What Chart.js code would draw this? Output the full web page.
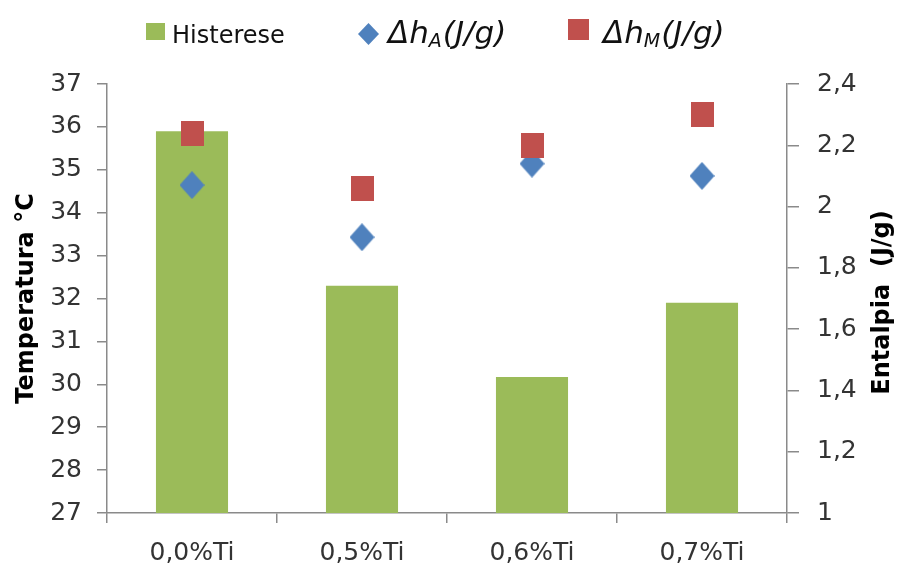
<!DOCTYPE html>
<html>
<head>
<meta charset="utf-8">
<script src="https://cdn.jsdelivr.net/npm/chart.js@4/dist/chart.umd.min.js"></script>
<style>
  html, body { margin: 0; padding: 0; background: #ffffff; }
  #wrap { width: 901px; height: 570px; position: relative; }
</style>
</head>
<body>
<div id="wrap"><canvas id="chart" width="901" height="570"></canvas></div>
<script>
// Alloy compositions on the category axis
const categories = ['0,0%Ti', '0,5%Ti', '0,6%Ti', '0,7%Ti'];

// Thermal hysteresis (°C), left axis
const histerese = [35.9, 32.3, 30.17, 31.9];

// Transformation enthalpies (J/g), right axis
const deltaHA = [2.07, 1.90, 2.14, 2.10];
const deltaHM = [2.24, 2.06, 2.20, 2.30];

// Axis ranges and labels
const tempMin = 27, tempMax = 37, tempStep = 1;
const entMin = 1, entMax = 2.4, entStep = 0.2;
const leftTitle = 'Temperatura °C';
const rightTitle = 'Entalpia  (J/g)';

// Legend text pieces (main symbol, subscript, tail)
const histLabel = 'Histerese';
const dhMain = 'Δh';
const dhSubA = 'A';
const dhSubM = 'M';
const dhTail = '(J/g)';

const GREEN = '#9BBB59';
const BLUE = '#4F81BD';
const RED = '#C0504D';
const AXIS = '#8A8A8A';
const TICK_TXT = '#333333';
const FONT = '"DejaVu Sans", sans-serif';

// Marker sprites
function diamondSprite(w, h, color) {
  const c = document.createElement('canvas');
  c.width = w; c.height = h;
  const g = c.getContext('2d');
  g.fillStyle = color;
  g.beginPath();
  g.moveTo(w / 2, 0);
  g.lineTo(w, h / 2);
  g.lineTo(w / 2, h);
  g.lineTo(0, h / 2);
  g.closePath();
  g.fill();
  return c;
}
function rectSprite(w, h, color) {
  const c = document.createElement('canvas');
  c.width = w; c.height = h;
  const g = c.getContext('2d');
  g.fillStyle = color;
  g.fillRect(0, 0, w, h);
  return c;
}

const diamondPt = diamondSprite(25, 28, BLUE);
const squarePt = rectSprite(23, 25, RED);

function fmtComma(v) {
  return String(Number(v.toFixed(2))).replace('.', ',');
}

// Legend and axis titles drawn on the canvas
const decorPlugin = {
  id: 'decor',
  afterDraw(chart) {
    const ctx = chart.ctx;
    const area = chart.chartArea;
    ctx.save();

    // Axis titles, both reading bottom to top
    ctx.fillStyle = '#000';
    ctx.font = 'bold 24px ' + FONT;
    ctx.textAlign = 'center';
    ctx.textBaseline = 'middle';
    const midY = (area.top + area.bottom) / 2;
    ctx.save();
    ctx.translate(27, midY);
    ctx.rotate(-Math.PI / 2);
    ctx.fillText(leftTitle, 0, 0);
    ctx.restore();
    ctx.save();
    ctx.translate(883, midY + 4);
    ctx.rotate(-Math.PI / 2);
    ctx.fillText(rightTitle, 0, 0);
    ctx.restore();

    // Legend
    ctx.textAlign = 'left';
    ctx.textBaseline = 'alphabetic';
    const base = 43;
    ctx.fillStyle = GREEN;
    ctx.fillRect(146, 23, 19, 17);
    ctx.fillStyle = '#111';
    ctx.font = '24px ' + FONT;
    ctx.fillText(histLabel, 172, base);

    function dhEntry(markerDraw, x, sub) {
      markerDraw();
      ctx.fillStyle = '#111';
      ctx.font = 'italic 31px ' + FONT;
      ctx.fillText(dhMain, x, base);
      let cx = x + ctx.measureText(dhMain).width;
      ctx.font = 'italic 19px ' + FONT;
      ctx.fillText(sub, cx, base + 4);
      cx += ctx.measureText(sub).width + 1;
      ctx.font = 'italic 31px ' + FONT;
      ctx.fillText(dhTail, cx, base);
    }
    dhEntry(() => ctx.drawImage(diamondSprite(21, 22, BLUE), 358, 23), 388, dhSubA);
    dhEntry(() => { ctx.fillStyle = RED; ctx.fillRect(568, 19, 21, 21); }, 603, dhSubM);

    ctx.restore();
  }
};

new Chart(document.getElementById('chart'), {
  type: 'bar',
  data: {
    labels: categories,
    datasets: [
      {
        type: 'line',
        label: dhMain + dhSubM + dhTail,
        data: deltaHM,
        yAxisID: 'y1',
        showLine: false,
        pointStyle: squarePt,
        pointRadius: 12,
        pointHoverRadius: 12,
        order: 0
      },
      {
        type: 'line',
        label: dhMain + dhSubA + dhTail,
        data: deltaHA,
        yAxisID: 'y1',
        showLine: false,
        pointStyle: diamondPt,
        pointRadius: 12,
        pointHoverRadius: 12,
        order: 1
      },
      {
        type: 'bar',
        label: histLabel,
        data: histerese,
        yAxisID: 'y',
        backgroundColor: GREEN,
        borderWidth: 0,
        categoryPercentage: 1,
        barPercentage: 0.424,
        order: 2
      }
    ]
  },
  options: {
    responsive: false,
    animation: false,
    devicePixelRatio: 1,
    layout: { padding: { top: 84, left: 0, right: 0, bottom: 0 } },
    plugins: {
      legend: { display: false },
      tooltip: { enabled: false },
      title: { display: false }
    },
    scales: {
      x: {
        offset: true,
        grid: {
          offset: true,
          drawOnChartArea: false,
          drawTicks: true,
          tickLength: 10,
          color: AXIS,
          lineWidth: 1.5
        },
        border: { color: AXIS, width: 1.5 },
        ticks: {
          color: TICK_TXT,
          font: { family: FONT, size: 25 },
          padding: 15,
          maxRotation: 0
        },
        afterFit(scale) { scale.height = 57; }
      },
      y: {
        position: 'left',
        min: tempMin,
        max: tempMax,
        grid: {
          drawOnChartArea: false,
          drawTicks: true,
          tickLength: 10,
          color: AXIS,
          lineWidth: 1.5
        },
        border: { color: AXIS, width: 1.5 },
        ticks: {
          stepSize: tempStep,
          color: TICK_TXT,
          font: { family: FONT, size: 25 },
          padding: 15
        },
        afterFit(scale) { scale.width = 107; }
      },
      y1: {
        position: 'right',
        min: entMin,
        max: entMax,
        grid: {
          drawOnChartArea: false,
          drawTicks: true,
          tickLength: 12,
          color: AXIS,
          lineWidth: 1.5
        },
        border: { color: AXIS, width: 1.5 },
        ticks: {
          stepSize: entStep,
          color: TICK_TXT,
          font: { family: FONT, size: 25 },
          padding: 18,
          callback: (v) => fmtComma(v)
        },
        afterFit(scale) { scale.width = 114; }
      }
    }
  },
  plugins: [decorPlugin]
});
</script>
</body>
</html>
